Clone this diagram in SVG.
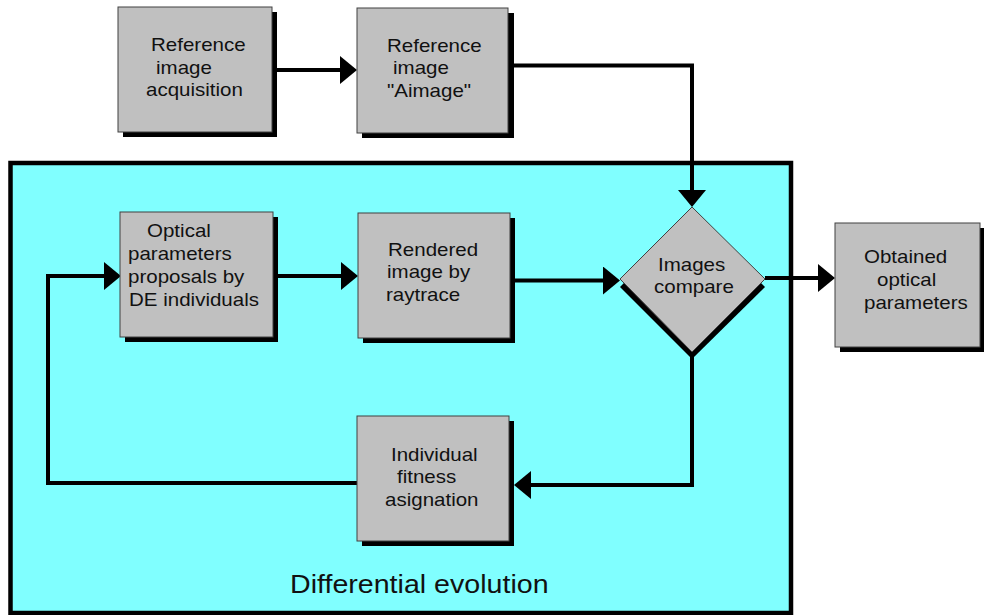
<svg xmlns="http://www.w3.org/2000/svg" width="984" height="615" viewBox="0 0 984 615">
<style>
.box{fill:#C0C0C0;stroke:#404040;stroke-width:1}
.sh{fill:#000}
.t{font-family:"Liberation Sans",Arial,sans-serif;font-size:18px;fill:#111}
.title{font-family:"Liberation Sans",Arial,sans-serif;font-size:26px;fill:#111}
.ln{fill:none;stroke:#000;stroke-width:4;stroke-linejoin:miter}
</style>
<defs>
<marker id="ah" markerUnits="userSpaceOnUse" markerWidth="17" markerHeight="28" refX="0" refY="14" orient="auto" viewBox="0 0 17 28">
<path d="M0,0 L17,14 L0,28 z" fill="#000"/>
</marker>
</defs>
<rect x="0" y="0" width="984" height="615" fill="#fff"/>
<g id="de-region">
<rect x="10.5" y="163" width="780.5" height="450" fill="#80FFFF" stroke="#000" stroke-width="4.5"/>
<text class="title" transform="translate(290,593) scale(1.1,1)">Differential evolution</text>
</g>
<g id="connectors">
<path class="ln" d="M277,70 L340,70" marker-end="url(#ah)"/>
<path class="ln" d="M514,65.5 L692,65.5 L692,190" marker-end="url(#ah)"/>
<path class="ln" d="M278,276 L341,276" marker-end="url(#ah)"/>
<path class="ln" d="M515,280.5 L603,280.5" marker-end="url(#ah)"/>
<path class="ln" d="M765,278 L818,278" marker-end="url(#ah)"/>
<path class="ln" d="M692,352 L692,485 L531,485" marker-end="url(#ah)"/>
<path class="ln" d="M357,483 L48,483 L48,276 L104,276" marker-end="url(#ah)"/>
</g>
<g id="n-acq">
<rect class="sh" x="123" y="12" width="154" height="125"/>
<rect class="box" x="118" y="7" width="154" height="125"/>
<text class="t" transform="translate(151,51) scale(1.14,1)">Reference</text>
<text class="t" transform="translate(156,74) scale(1.14,1)">image</text>
<text class="t" transform="translate(146,96) scale(1.14,1)">acquisition</text>
</g>
<g id="n-aimage">
<rect class="sh" x="362" y="13" width="152" height="125"/>
<rect class="box" x="357" y="8" width="151" height="125"/>
<text class="t" transform="translate(387,52) scale(1.14,1)">Reference</text>
<text class="t" transform="translate(393,74) scale(1.14,1)">image</text>
<text class="t" transform="translate(387,97) scale(1.14,1)">"Aimage"</text>
</g>
<g id="n-optical">
<rect class="sh" x="125" y="217" width="153" height="125"/>
<rect class="box" x="120" y="212" width="153" height="125"/>
<text class="t" transform="translate(147,237) scale(1.14,1)">Optical</text>
<text class="t" transform="translate(128,260) scale(1.14,1)">parameters</text>
<text class="t" transform="translate(128,283) scale(1.14,1)">proposals by</text>
<text class="t" transform="translate(129,306) scale(1.14,1)">DE individuals</text>
</g>
<g id="n-rendered">
<rect class="sh" x="363" y="218" width="152" height="125"/>
<rect class="box" x="358" y="213" width="152" height="125"/>
<text class="t" transform="translate(388,256) scale(1.14,1)">Rendered</text>
<text class="t" transform="translate(387,278) scale(1.14,1)">image by</text>
<text class="t" transform="translate(386,301) scale(1.14,1)">raytrace</text>
</g>
<g id="n-compare">
<polygon class="sh" points="692,214 765,287 692,359 620,287"/>
<polygon class="box" points="692,207 765,279 692,352 620,279"/>
<text class="t" transform="translate(658,271) scale(1.14,1)">Images</text>
<text class="t" transform="translate(654,293) scale(1.14,1)">compare</text>
</g>
<g id="n-obtained">
<rect class="sh" x="840" y="228" width="150" height="124"/>
<rect class="box" x="835" y="223" width="145" height="124"/>
<text class="t" transform="translate(864,263) scale(1.14,1)">Obtained</text>
<text class="t" transform="translate(877,286) scale(1.14,1)">optical</text>
<text class="t" transform="translate(864,309) scale(1.14,1)">parameters</text>
</g>
<g id="n-fitness">
<rect class="sh" x="362" y="421" width="152" height="125"/>
<rect class="box" x="357" y="416" width="152" height="125"/>
<text class="t" transform="translate(391,461) scale(1.14,1)">Individual</text>
<text class="t" transform="translate(397,483) scale(1.14,1)">fitness</text>
<text class="t" transform="translate(385,506) scale(1.14,1)">asignation</text>
</g>
</svg>
